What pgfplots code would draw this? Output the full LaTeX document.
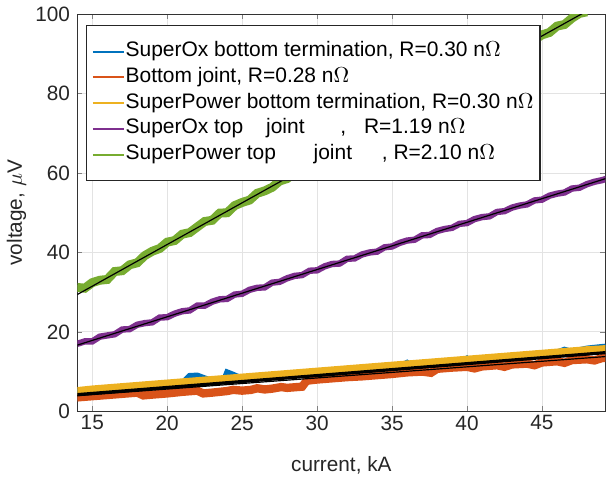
\documentclass[border=0pt]{standalone}
\usepackage{pgfplots}
\pgfplotsset{compat=1.18}
\usepackage{fontspec}
\setmainfont{Liberation Sans}
\definecolor{mblue}{rgb}{0,0.447,0.741}
\definecolor{morange}{rgb}{0.85,0.325,0.098}
\definecolor{myellow}{rgb}{0.929,0.694,0.125}
\definecolor{mpurple}{rgb}{0.494,0.184,0.556}
\definecolor{mgreen}{rgb}{0.466,0.674,0.188}
\begin{document}
\fontsize{10.4}{12.5}\selectfont
\begin{tikzpicture}
\begin{axis}[
  scale only axis, width=266bp, height=200bp,
  xmin=14, xmax=49.23, ymin=0, ymax=100,
  xtick={15,20,...,45}, ytick={0,20,...,100},
  tick align=inside, tick pos=both,
  major tick length=2.5bp,
  grid=major, grid style={gray!22, line width=0.4pt},
  axis line style={line width=0.6pt, black!80},
  /pgf/number format/assume math mode=true,
  tick label style={font=\fontsize{10.5}{12}\selectfont, black!85},
  xticklabel style={yshift=1.5bp},
  label style={font=\fontsize{10.5}{12}\selectfont, black!85},
  xlabel={current, kA}, ylabel={voltage, $\mu$V},
  xlabel style={yshift=-6bp},
  ylabel style={yshift=-2.5bp},
  legend cell align=left,
  legend style={at={(0.016,0.9725)}, anchor=north west, draw=black!85, fill=white,
    line width=0.6pt,
    font=\fontsize{10.6}{12.5}\selectfont, inner xsep=2.8bp, inner ysep=6.5bp,
    row sep=0pt, column sep=0pt,
    nodes={text height=8.5bp, text depth=3.5bp, inner sep=0.5bp}},
  legend image code/.code={\draw[#1] (0bp,0bp) -- (15.5bp,0bp);},
  clip=true,
]
\addlegendimage{draw=mblue, line width=1bp}
\addlegendentry{SuperOx bottom termination, R=0.30 n$\Omega$}
\addlegendimage{draw=morange, line width=1bp}
\addlegendentry{Bottom joint, R=0.28 n$\Omega$}
\addlegendimage{draw=myellow, line width=1bp}
\addlegendentry{SuperPower bottom termination, R=0.30 n$\Omega$}
\addlegendimage{draw=mpurple, line width=1bp}
\addlegendentry{SuperOx top\hspace{11.5bp}joint\hspace{18bp},\hspace{9bp}R=1.19 n$\Omega$}
\addlegendimage{draw=mgreen, line width=1bp}
\addlegendentry{SuperPower top\hspace{19bp}joint\hspace{15bp}, R=2.10 n$\Omega$}
\addplot[mblue, line width=3bp, forget plot] coordinates {
(14,4.9)(16,5.5)(18,6.1)(20,6.7)(21,7.0)(21.5,8.9)(22,9.0)(22.5,8.3)(23,7.6)(23.8,7.9)(24,9.8)(24.4,9.2)(25,8.2)(27,8.8)(30,9.7)(33,10.6)(35.5,11.3)(36,12.2)(36.3,11.4)(39,12.3)(39.6,12.6)(40,13.3)(40.3,12.7)(42,13.3)(44,13.9)(45,14.2)(46,14.8)(46.5,15.5)(47,15.0)(48,15.8)(49,16.2)(49.3,16.3)};
\addplot[morange, line width=4.2bp, forget plot] coordinates {
(14,3.5)(15,3.8)(16,4.1)(17,4.4)(18,4.7)(18.4,4.0)(19,4.2)(20,4.5)(21,4.9)(22,5.2)(22.4,4.5)(23,4.7)(24,5.1)(24.4,5.4)(25,5.2)(25.6,5.4)(26,5.8)(26.5,5.5)(27,5.7)(27.6,6.1)(28,5.9)(29,6.2)(29.3,7.7)(30,8.0)(31,8.3)(32,8.6)(33,8.8)(34,9.1)(35,9.4)(36,9.8)(37,10.0)(37.6,9.7)(38,10.7)(39,11.0)(40,11.2)(40.5,10.8)(41,11.3)(42,11.6)(42.5,11.2)(43,11.8)(44,12.0)(44.5,11.6)(45,12.3)(46,12.6)(46.5,12.2)(47,12.9)(48,13.1)(48.5,12.8)(49,13.4)(49.5,13.5)};
\addplot[myellow, line width=4bp, forget plot] coordinates {
(14,5.1)(15,5.5)(16,5.8)(17,6.1)(18,6.4)(19,6.7)(20,7.0)(21,7.3)(22,7.6)(23,7.9)(24,8.2)(25,8.5)(26,8.8)(27,9.1)(28,9.4)(29,9.7)(30,10.0)(31,10.3)(32,10.6)(33,10.9)(34,11.2)(35,11.5)(36,11.8)(37,12.1)(38,12.4)(39,12.7)(40,13.0)(41,13.3)(42,13.6)(43,13.9)(44,14.2)(45,14.5)(46,14.8)(47,15.1)(48,15.4)(49,15.6)(49.5,15.8)};
\addplot[mpurple, line width=3.2bp, forget plot] coordinates {
(14.0,17.0)(14.5,17.6)(15.0,17.6)(15.5,18.8)(16.0,19.1)(16.5,19.4)(17.0,20.6)(17.5,20.7)(18.0,21.8)(18.5,22.2)(19.0,22.4)(19.5,23.6)(20.0,23.7)(20.5,24.6)(21.0,25.2)(21.5,25.4)(22.0,26.6)(22.5,26.6)(23.0,27.6)(23.5,28.2)(24.0,28.3)(24.5,29.4)(25.0,29.6)(25.5,30.6)(26.0,31.1)(26.5,31.2)(27.0,32.4)(27.5,32.6)(28.0,33.5)(28.5,34.1)(29.0,34.3)(29.5,35.4)(30.0,35.5)(30.5,36.5)(31.0,37.1)(31.5,37.2)(32.0,38.4)(32.5,38.5)(33.0,39.5)(33.5,40.0)(34.0,40.2)(34.5,41.3)(35.0,41.5)(35.5,42.4)(36.0,43.0)(36.5,43.2)(37.0,44.3)(37.5,44.4)(38.0,45.4)(38.5,45.9)(39.0,46.2)(39.5,47.2)(40.0,47.4)(40.5,48.4)(41.0,48.9)(41.5,49.1)(42.0,50.2)(42.5,50.4)(43.0,51.3)(43.5,51.8)(44.0,52.1)(44.5,53.1)(45.0,53.3)(45.5,54.3)(46.0,54.8)(46.5,55.1)(47.0,56.1)(47.5,56.3)(48.0,57.2)(48.5,57.8)(49.0,58.2)(49.5,58.8)};
\addplot[mgreen, line width=4.5bp, forget plot] coordinates {
(14.0,31.2)(14.5,31.0)(15.0,32.4)(15.5,33.0)(16.0,33.2)(16.5,35.2)(17.0,35.4)(17.5,36.9)(18.0,37.4)(18.5,39.2)(19.0,40.3)(19.5,41.0)(20.0,42.6)(20.5,43.0)(21.0,44.6)(21.5,45.0)(22.0,46.4)(22.5,47.8)(23.0,48.1)(23.5,49.9)(24.0,50.0)(24.5,51.8)(25.0,52.6)(25.5,53.2)(26.0,54.9)(26.5,55.5)(27.0,56.4)(27.5,58.0)(28.0,58.6)(28.5,60.1)(29.0,60.6)(29.5,62.3)(30.0,63.0)(30.5,63.8)(31.0,65.4)(31.5,66.0)(32.0,67.4)(32.5,68.5)(33.0,69.1)(33.5,70.6)(34.0,71.7)(34.5,72.2)(35.0,73.8)(35.5,74.3)(36.0,75.9)(36.5,76.4)(37.0,77.9)(37.5,79.0)(38.0,79.6)(38.5,81.2)(39.0,81.7)(39.5,83.3)(40.0,84.2)(40.5,84.8)(41.0,86.4)(41.5,87.0)(42.0,88.5)(42.5,89.5)(43.0,90.1)(43.5,91.7)(44.0,92.2)(44.5,93.6)(45.0,94.8)(45.5,95.4)(46.0,97.0)(46.5,97.4)(47.0,99.0)(47.5,100.2)(48.0,100.6)};
\addplot[black, line width=0.6pt, forget plot] coordinates {(14,3.92)(49.23,13.78)};
\addplot[black, line width=1.6pt, forget plot] coordinates {(14,4.2)(49.23,14.77)};
\addplot[black, line width=0.6pt, forget plot] coordinates {(14,16.66)(49.23,58.58)};
\addplot[black, line width=0.6pt, forget plot] coordinates {(14,29.4)(49.23,103.4)};
\end{axis}
\end{tikzpicture}
\end{document}
